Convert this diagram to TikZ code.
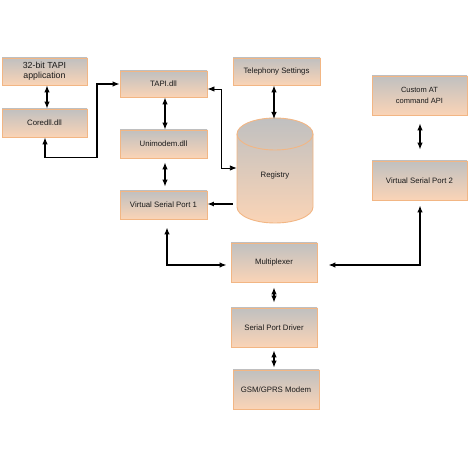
\documentclass[tikz,border=0pt]{standalone}
\usepackage{fontspec}
\setmainfont{Liberation Sans}
\usetikzlibrary{arrows.meta,calc}
\definecolor{boxtop}{RGB}{192,192,192}
\definecolor{boxbot}{RGB}{250,212,182}
\definecolor{boxline}{RGB}{242,182,132}
\definecolor{txt}{RGB}{25,25,25}
\tikzset{
  x=1pt,y=1pt,
  box/.style={draw=boxline, line width=0.9pt, top color=boxtop, bottom color=boxbot,
    shading angle=0, inner sep=1pt, align=center, text=txt,
    font=\fontsize{7.8}{9}\selectfont},
  conn/.style={line width=1.1pt, black},
  dbl/.style={conn, {Latex[length=7pt,width=5.5pt]}-{Latex[length=7pt,width=5.5pt]}},
  sgl/.style={conn, -{Latex[length=6.5pt,width=5pt]}},
}
\begin{document}
\begin{tikzpicture}
\useasboundingbox (0,0) rectangle (470,470);
\fill[white] (0,0) rectangle (470,470);
% boxes
\node[box, minimum width=85pt, minimum height=27pt, font=\fontsize{8.8}{10}\selectfont] (app) at (44.5,398.5) {32-bit TAPI\\application};
\node[box, minimum width=85pt, minimum height=28pt] (core) at (44.5,347) {Coredll.dll};
\node[box, minimum width=87pt, minimum height=26pt] (tapi) at (163.5,386) {TAPI.dll};
\node[box, minimum width=87pt, minimum height=28pt] (uni) at (163.5,326) {Unimodem.dll};
\node[box, minimum width=87pt, minimum height=28pt] (vsp1) at (163.5,265) {Virtual Serial Port 1};
\node[box, minimum width=87pt, minimum height=27pt] (tel) at (276.5,398.5) {Telephony Settings};
\node[box, minimum width=95pt, minimum height=39pt, font=\fontsize{7.5}{10.5}\selectfont] (cust) at (419.5,374.5) {Custom AT\\command API};
\node[box, minimum width=95pt, minimum height=39pt] (vsp2) at (419.5,289.5) {Virtual Serial Port 2};
\node[box, minimum width=86pt, minimum height=39pt] (mux) at (274,207.5) {\raisebox{-6pt}{Multiplexer}};
\node[box, minimum width=86pt, minimum height=39pt] (spd) at (274,142.5) {\raisebox{-5pt}{Serial Port Driver}};
\node[box, minimum width=86pt, minimum height=39pt] (gsm) at (276,80.5) {GSM/GPRS Modem};
% registry cylinder
\shade[top color=boxtop, bottom color=boxbot, shading angle=0, draw=boxline, line width=0.9pt]
  (237,336) -- (237,263) arc[start angle=180, end angle=360, x radius=38, y radius=16]
  -- (313,336) arc[start angle=0, end angle=180, x radius=38, y radius=16] -- cycle;
\draw[boxline, line width=0.9pt] (237,336) arc[start angle=180, end angle=360, x radius=38, y radius=16];
\node[minimum width=76pt, minimum height=105pt, inner sep=0pt] (reg) at (275,299.5) {};
\node[text=txt, font=\fontsize{7.8}{9}\selectfont] (regtxt) at (275,295) {Registry};
% connectors
\draw[dbl] ([xshift=2.5pt]app.south) -- ([xshift=2.5pt]core.north);
\draw[dbl] ([xshift=0.5pt]core.south) -- ++(0,-20) -| (97,386) -- (tapi.west);
\draw[dbl] ([xshift=1.5pt]tapi.south) -- ([xshift=1.5pt]uni.north);
\draw[dbl, shorten >=4pt, shorten <=4pt] ([xshift=1.5pt]uni.south) -- ([xshift=1.5pt]vsp1.north);
\draw[dbl, line width=0.9pt] ([yshift=-5pt]tapi.east) -| (221,302) -- (reg.west |- 0,302);
\draw[sgl] ([xshift=-4pt]reg.west |- 0,266) -- (vsp1.east |- 0,266);
\draw[dbl] ([xshift=-2.5pt]tel.south) -- (274,351);
\draw[dbl, shorten <=8pt, shorten >=11pt] ([xshift=0.5pt]cust.south) -- ([xshift=0.5pt]vsp2.north);
\draw[dbl, line width=1.3pt, shorten <=8pt] ([xshift=3.5pt]vsp1.south) |- ([xshift=-4pt]mux.west |- 0,205);
\draw[dbl, line width=1.3pt, shorten >=5pt] ([xshift=11pt]mux.east |- 0,205) -| ([xshift=0.5pt]vsp2.south);
\draw[dbl, shorten <=5pt, shorten >=5pt] (mux.south) -- (spd.north);
\draw[dbl, shorten <=3pt, shorten >=2pt] (spd.south) -- (spd.south |- gsm.north);
\end{tikzpicture}
\end{document}
